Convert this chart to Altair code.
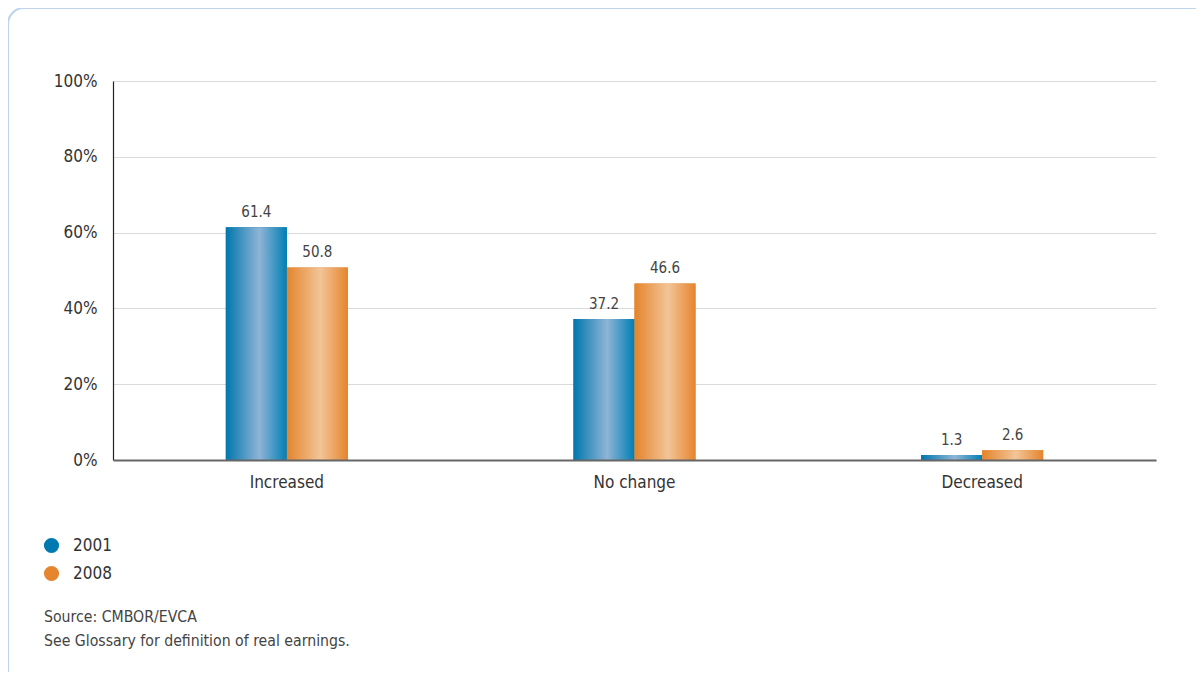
import altair as alt
import pandas as pd

categories = ["Increased", "No change", "Decreased"]
years = ["2001", "2008"]
values_2001 = [61.4, 37.2, 1.3]
values_2008 = [50.8, 46.6, 2.6]
y_ticks = [0, 20, 40, 60, 80, 100]
notes = ["Source: CMBOR/EVCA", "See Glossary for definition of real earnings."]

rows = []
for c, a, b in zip(categories, values_2001, values_2008):
    rows.append({"category": c, "year": "2001", "value": a})
    rows.append({"category": c, "year": "2008", "value": b})
df = pd.DataFrame(rows)

FONT = "DejaVu Sans Condensed, sans-serif"
BLUE = "#0079B0"
ORANGE = "#E5852F"

grad_blue = {
    "gradient": "linear", "x1": 0, "x2": 1, "y1": 0, "y2": 0,
    "stops": [
        {"offset": 0, "color": "#0077AD"},
        {"offset": 0.55, "color": "#8FB4D6"},
        {"offset": 1, "color": "#007FB4"},
    ],
}
grad_orange = {
    "gradient": "linear", "x1": 0, "x2": 1, "y1": 0, "y2": 0,
    "stops": [
        {"offset": 0, "color": "#E4842C"},
        {"offset": 0.55, "color": "#F2C597"},
        {"offset": 1, "color": "#E5852D"},
    ],
}

x_enc = alt.X(
    "category:N", sort=categories, title=None,
    scale=alt.Scale(paddingInner=0.649, paddingOuter=0.3245),
    axis=alt.Axis(labelAngle=0, labelFontSize=17, labelColor="#333333", labelFont=FONT,
                  ticks=False, domainColor="#666666", domainWidth=2, labelPadding=14,
                  zindex=1),
)
xoff_enc = alt.XOffset("year:N", scale=alt.Scale(domain=years, paddingOuter=0, paddingInner=0))
y_enc = alt.Y(
    "value:Q", title=None,
    scale=alt.Scale(domain=[0, 100], nice=False),
    axis=alt.Axis(values=y_ticks, labelExpr="datum.value + '%'", labelFontSize=17,
                  labelColor="#333333", labelFont=FONT, ticks=False, labelPadding=16,
                  domainColor="#222222", domainWidth=1.2, gridColor="#DADADA", gridWidth=1.2),
)

base = alt.Chart(df).encode(x=x_enc, xOffset=xoff_enc, y=y_enc)

bars = base.mark_bar().encode(
    color=alt.Color(
        "year:N", scale=alt.Scale(domain=years, range=[BLUE, ORANGE]),
        legend=alt.Legend(title=None, orient="none", legendX=-70, legendY=456,
                          symbolType="circle", symbolSize=230, symbolOpacity=1,
                          labelFontSize=17, labelFont=FONT, labelColor="#333333",
                          labelOffset=13, rowPadding=10),
    )
)

grad_bars = base.mark_bar().encode(
    fill=alt.condition(alt.datum.year == "2001", alt.value(grad_blue), alt.value(grad_orange))
)

labels = base.mark_text(dy=-15, fontSize=15, font=FONT, color="#444444").encode(
    text=alt.Text("value:Q", format=".1f")
)

single = pd.DataFrame({"note": ["\n".join(notes)]})

border = alt.Chart(single).mark_rect(
    fill="transparent", stroke="#C0D5EC", strokeWidth=2.2, cornerRadius=16
).encode(
    x=alt.value(-105), x2=alt.value(1100), y=alt.value(-73), y2=alt.value(604)
)

footnote = alt.Chart(single).mark_text(
    align="left", baseline="alphabetic", lineBreak="\n", lineHeight=24,
    fontSize=15.7, font=FONT, color="#444444"
).encode(
    text="note:N", x=alt.value(-69), y=alt.value(541)
)

chart = alt.layer(border, bars, grad_bars, labels, footnote).properties(
    width=1043, height=379,
    autosize=alt.AutoSizeParams(type="none"),
    padding={"left": 105, "top": 73, "right": 40, "bottom": 212},
).configure_view(stroke=None).configure_axis(labelFont=FONT)

chart.save("out.html", embed_options={"renderer": "svg", "actions": False})
